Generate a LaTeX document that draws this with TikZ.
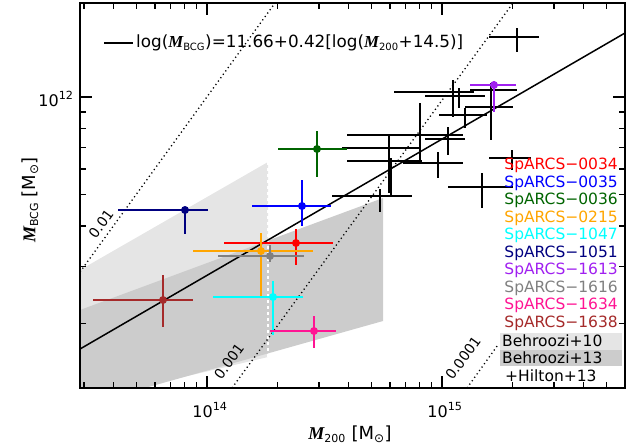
\documentclass[tikz,border=0pt]{standalone}
\usepackage{fontspec}
\setmainfont{DejaVu Sans}
\newfontfamily\serifb{Liberation Serif}
\begin{document}
\begin{tikzpicture}[x=1pt,y=-1pt,
  eb/.style={line width=1.5pt},
  bk/.style={line width=1.2pt,black},
  dotl/.style={dash pattern=on 1.2pt off 3pt,line width=1.3pt},
  lab/.style={font=\fontsize{14}{14}\selectfont,inner sep=0pt},
  leg/.style={font=\fontsize{15.5}{15.5}\selectfont,inner sep=0pt,anchor=east}]
\definecolor{lgr}{gray}{0.9}
\definecolor{dgr}{gray}{0.8}
\definecolor{dkgreen}{RGB}{0,100,0}
\definecolor{navy}{RGB}{0,0,128}
\definecolor{purp}{RGB}{160,32,240}
\definecolor{dpink}{RGB}{255,20,147}
\definecolor{brn}{RGB}{165,42,42}
\definecolor{orng}{RGB}{255,165,0}
\definecolor{cyn}{RGB}{0,255,255}
\useasboundingbox (0,0) rectangle (628,447);
% shaded regions
\fill[lgr] (80,270) -- (268,162) -- (268,357) -- (137,388) -- (80,388) -- cycle;
\fill[dgr] (80,310) -- (383,198) -- (383,321) -- (145,388) -- (80,388) -- cycle;
\draw[white,dashed,line width=1.2pt] (268,162) -- (268,357);
% dotted lines
\draw[dotl] (80,272) -- (275,3);
\draw[dotl] (232,388) -- (513,3);
\draw[dotl] (467,388) -- (500,342);
\node[lab,rotate=54] (l1) at (101,224) {0.01};
\node[lab,rotate=54] (l2) at (229,361) {0.001};
\node[lab,rotate=54] (l3) at (463,358) {0.0001};
% fit line
\draw[line width=1.5pt] (80,349) -- (625,33);
% black crosses
\newcommand\crs[6]{\draw[bk] (#3,#2) -- (#4,#2) (#1,#5) -- (#1,#6);}
\crs{517}{37}{489}{539}{28}{52}
\crs{453}{92}{394}{474}{80}{117}
\crs{459}{96}{425}{485}{88}{108}
\crs{491}{107}{465}{513}{83}{140}
\crs{491}{90}{470}{517}{85}{95}
\crs{465}{115}{439}{487}{108}{128}
\crs{448}{139}{425}{465}{127}{155}
\crs{420}{135}{347}{463}{103}{160}
\crs{389}{148}{342}{420}{136}{193}
\crs{391}{161}{347}{422}{158}{195}
\crs{438}{163}{403}{463}{152}{178}
\crs{512}{158}{489}{531}{150}{170}
\crs{482}{187}{448}{513}{173}{208}
\crs{380}{196}{332}{412}{189}{212}
% coloured points
\newcommand\pt[7]{\draw[eb,#1] (#4,#3) -- (#5,#3) (#2,#6) -- (#2,#7); \fill[#1] (#2,#3) circle (4);}
\pt{navy}{185}{210}{118}{208}{210}{234}
\pt{blue}{302}{206}{252}{331}{180}{226}
\pt{red}{296}{243}{224}{333}{229}{265}
\pt{orng}{261}{251}{193}{313}{233}{296}
\pt{gray}{270}{256}{218}{304}{245}{262}
\pt{cyn}{273}{297}{213}{303}{281}{335}
\pt{dpink}{314}{331}{270}{336}{316}{348}
\pt{brn}{163}{300}{93}{193}{275}{327}
\pt{dkgreen}{317}{149}{278}{347}{131}{177}
\pt{purp}{494}{85}{470}{516}{81}{112}
% legend top
\draw[line width=1.2pt] (104,43) -- (133,43);
\node[lab,anchor=west,font=\fontsize{16.8}{16.8}\selectfont] (f) at (136,43) {log({\serifb\bfseries\itshape M}\textsubscript{\fontsize{10}{10}\selectfont BCG})=11.66+0.42[log({\serifb\bfseries\itshape M}\textsubscript{\fontsize{10}{10}\selectfont 200}+14.5)]};
% legend right
\fill[white] (498,333) rectangle (623,385);
\fill[lgr] (500,333) rectangle (622,350);
\fill[dgr] (500,350) rectangle (622,366);
\node[leg,red] (a1) at (618,165) {SpARCS−0034};
\node[leg,blue] (a2) at (618,183) {SpARCS−0035};
\node[leg,dkgreen] (a3) at (618,200) {SpARCS−0036};
\node[leg,orng] (a4) at (618,218) {SpARCS−0215};
\node[leg,cyn] (a5) at (618,235) {SpARCS−1047};
\node[leg,navy] (a6) at (618,253) {SpARCS−1051};
\node[leg,purp] (a7) at (618,270) {SpARCS−1613};
\node[leg,gray] (a8) at (618,288) {SpARCS−1616};
\node[leg,dpink] (a9) at (618,305) {SpARCS−1634};
\node[leg,brn] (a10) at (618,323) {SpARCS−1638};
\node[leg,anchor=west] (b1) at (502,341) {Behroozi+10};
\node[leg,anchor=west] (b2) at (502,358) {Behroozi+13};
\node[leg,anchor=west] (b3) at (505,376) {+Hilton+13};
% frame and ticks
\draw[line width=1.8pt] (80,3) rectangle (625,388);
\foreach \m in {3,...,9} {\pgfmathsetmacro\tx{207+235*(log10(\m)-1)}
  \draw[line width=1.4pt] (\tx,388) -- (\tx,382) (\tx,3) -- (\tx,9);}
\foreach \m in {2,...,9} {\pgfmathsetmacro\tx{207+235*log10(\m)}
  \draw[line width=1.4pt] (\tx,388) -- (\tx,382) (\tx,3) -- (\tx,9);}
\foreach \m in {2,...,5} {\pgfmathsetmacro\tx{442+235*log10(\m)}
  \draw[line width=1.4pt] (\tx,388) -- (\tx,382) (\tx,3) -- (\tx,9);}
\foreach \tx in {207,442} \draw[line width=1.4pt] (\tx,388) -- (\tx,376) (\tx,3) -- (\tx,15);
\foreach \m in {2,...,9} {\pgfmathsetmacro\ty{97+324*(1-log10(\m))}
  \draw[line width=1.4pt] (80,\ty) -- (86,\ty) (625,\ty) -- (619,\ty);}
\draw[line width=1.4pt] (80,97) -- (92,97) (625,97) -- (613,97);
% axis labels
\node[lab,font=\fontsize{16}{16}\selectfont] (t14) at (210,410) {10\textsuperscript{14}};
\node[lab,font=\fontsize{16}{16}\selectfont] (t15) at (445,410) {10\textsuperscript{15}};
\node[lab,font=\fontsize{16}{16}\selectfont] (t12) at (56,99) {10\textsuperscript{12}};
\node[lab,font=\fontsize{18}{18}\selectfont] (xl) at (350,434) {{\serifb\bfseries\itshape M}\textsubscript{\fontsize{11}{11}\selectfont 200} [M\textsubscript{\fontsize{12}{12}\selectfont ⊙}]};
\node[lab,font=\fontsize{18}{18}\selectfont,rotate=90] (yl) at (30,200) {{\serifb\bfseries\itshape M}\textsubscript{\fontsize{11}{11}\selectfont BCG} [M\textsubscript{\fontsize{12}{12}\selectfont ⊙}]};
\end{tikzpicture}
\end{document}
